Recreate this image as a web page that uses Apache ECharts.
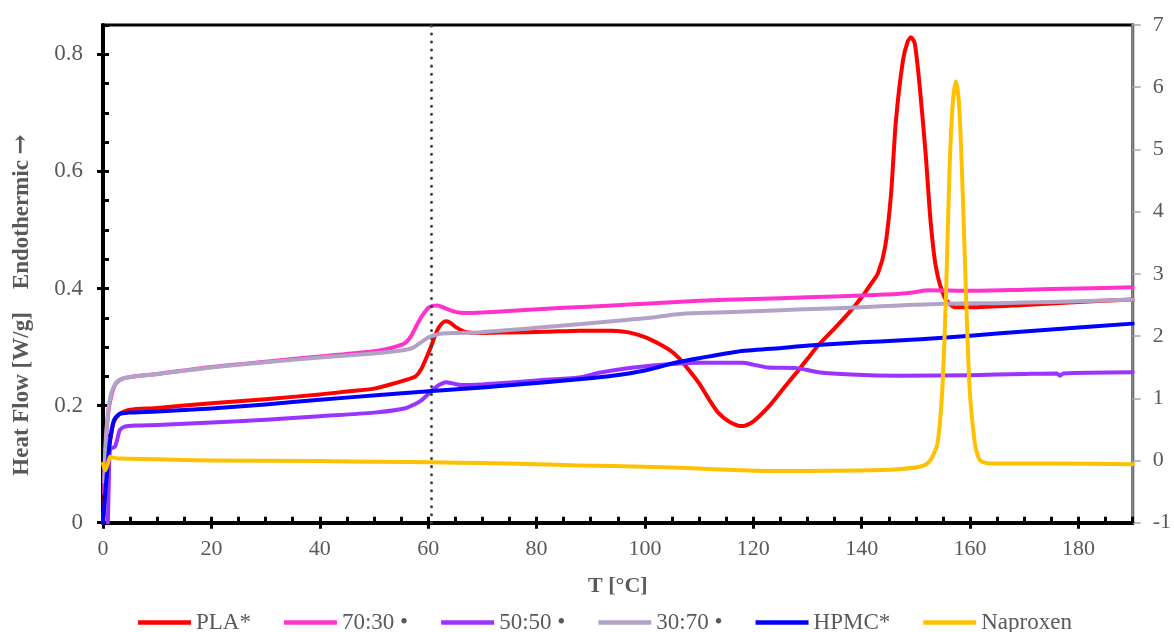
<!DOCTYPE html>
<html>
<head>
<meta charset="utf-8">
<title>DSC thermograms</title>
<script src="https://cdn.jsdelivr.net/npm/echarts@6/dist/echarts.min.js"></script>
<style>
  html, body { margin: 0; padding: 0; background: #fff; }
  #chart { width: 1174px; height: 632px; }
</style>
</head>
<body>
<div id="chart"></div>
<script>
// Heat flow curves, [T (°C), heat flow (W/g)] — left axis
const pla = [[0,0.0],[0.5,0.07],[1,0.12],[1.5,0.15],[2,0.172],[3,0.185],[4,0.19],[5,0.193],[10,0.196],[20,0.204],[30,0.211],[40,0.219],[45,0.224],[50,0.229],[53,0.236],[55.6,0.243],[57.7,0.25],[58.7,0.262],[59.6,0.28],[60.5,0.3],[61.3,0.32],[62,0.334],[63.2,0.344],[64,0.342],[65.1,0.334],[66.9,0.326],[69.4,0.324],[75,0.325],[81.6,0.326],[88,0.328],[94,0.328],[97,0.325],[100,0.317],[102.5,0.306],[104.5,0.295],[106.2,0.282],[108,0.262],[110,0.238],[112,0.208],[113.5,0.188],[115.5,0.173],[117.8,0.165],[119.5,0.17],[121,0.181],[123,0.2],[124.6,0.218],[126.5,0.24],[128.3,0.26],[130,0.28],[132,0.303],[135,0.332],[137.5,0.357],[140,0.385],[141.5,0.405],[143,0.426],[144.3,0.47],[145.4,0.56],[146.3,0.685],[147.6,0.789],[148.5,0.822],[149.1,0.829],[149.8,0.818],[150.7,0.745],[151.8,0.63],[152.7,0.516],[153.7,0.436],[155.3,0.385],[157.2,0.368],[160,0.368],[170,0.372],[180,0.377],[190,0.381]];

const blend7030 = [[0.2,0.05],[0.5,0.13],[1,0.19],[1.5,0.215],[2.2,0.235],[3,0.243],[4,0.247],[6,0.25],[10,0.254],[20,0.266],[30,0.275],[40,0.284],[50,0.293],[53,0.298],[55.6,0.306],[56.8,0.318],[57.7,0.334],[58.8,0.352],[60.2,0.368],[61.7,0.371],[63.2,0.366],[65,0.36],[66.9,0.358],[70,0.359],[75.5,0.362],[85,0.367],[94,0.371],[100,0.374],[110,0.379],[120,0.382],[130,0.385],[140,0.388],[147,0.391],[150,0.394],[152.2,0.397],[160,0.396],[170,0.398],[180,0.4],[190,0.402]];

const blend5050 = [[0.9,0.0],[1.1,0.08],[1.3,0.125],[2.2,0.13],[2.7,0.145],[3.1,0.158],[4,0.164],[6,0.166],[10,0.167],[20,0.171],[30,0.176],[40,0.182],[50,0.188],[55.6,0.195],[58.3,0.206],[59.5,0.215],[60.7,0.226],[62,0.235],[63.3,0.24],[64.5,0.238],[66.2,0.235],[70,0.236],[73,0.238],[80,0.243],[87.8,0.248],[91.5,0.256],[94,0.26],[98.8,0.266],[105,0.271],[110,0.273],[118,0.273],[120,0.27],[122.7,0.265],[128,0.264],[132,0.257],[138,0.253],[146.7,0.251],[160,0.252],[170,0.254],[176,0.255],[176.6,0.251],[177.2,0.255],[190,0.257]];

const blend3070 = [[0.2,0.07],[0.5,0.14],[1,0.195],[1.5,0.22],[2.2,0.236],[3,0.244],[4,0.247],[6,0.25],[10,0.254],[20,0.265],[30,0.274],[40,0.282],[50,0.289],[55,0.294],[57,0.298],[58.5,0.307],[60.2,0.317],[61.5,0.321],[62.6,0.323],[66,0.324],[69.4,0.325],[75,0.329],[80,0.333],[87.8,0.339],[95,0.345],[100,0.349],[106,0.356],[110,0.358],[120,0.361],[128,0.364],[140,0.368],[147,0.371],[155,0.374],[165,0.375],[175,0.377],[190,0.381]];

const hpmc = [[0,0.0],[0.5,0.06],[1,0.115],[1.3,0.141],[1.8,0.168],[2.2,0.178],[3.1,0.186],[4.6,0.188],[10,0.19],[20,0.195],[30,0.202],[40,0.21],[51,0.218],[60.7,0.225],[70,0.231],[75.5,0.235],[87.8,0.245],[94,0.251],[100,0.26],[106,0.274],[110,0.281],[117,0.292],[124.6,0.298],[131,0.303],[140,0.308],[146.7,0.311],[155,0.316],[165,0.323],[175,0.33],[190,0.34]];

// Naproxen, [T (°C), heat flow (W/g)] — right axis
const naproxen = [[0,-0.05],[0.4,-0.16],[0.9,-0.05],[1.3,0.06],[1.7,0.05],[3,0.03],[10,0.02],[20,0.0],[40,-0.01],[51,-0.02],[60.7,-0.03],[70,-0.04],[80,-0.06],[87.8,-0.08],[100,-0.1],[110,-0.13],[115.4,-0.15],[124.6,-0.17],[128.5,-0.17],[140,-0.16],[146.7,-0.14],[150.2,-0.11],[151.5,-0.08],[152.2,-0.04],[153,0.05],[154,0.28],[154.9,1.18],[155.6,2.79],[156.2,4.67],[156.8,5.74],[157.4,6.09],[158,5.68],[158.6,4.4],[159.3,2.53],[159.9,1.18],[160.8,0.32],[161.4,0.08],[161.9,0.0],[163,-0.04],[164.5,-0.05],[175,-0.05],[190,-0.06]];

const seriesNames = ['PLA*', '70:30 \u2022', '50:50 \u2022', '30:70 \u2022', 'HPMC*', 'Naproxen'];
const seriesColors = ['#FF0000', '#FF33CC', '#9933FF', '#B3A2C7', '#0000FF', '#FFC000'];
const seriesData = [pla, blend7030, blend5050, blend3070, hpmc, naproxen];
const glassTransitionT = 60.5;

const xRange = [0, 190];
const leftRange = [0, 0.85];
const rightRange = [-1, 7];

const FONT = '"Liberation Serif", "Times New Roman", serif';
const TXT = '#595959';

const chart = echarts.init(document.getElementById('chart'), null, { renderer: 'canvas' });

const series = seriesData.map((d, i) => ({
  name: seriesNames[i],
  type: 'line',
  data: d,
  xAxisIndex: 0,
  yAxisIndex: i === 5 ? 2 : 0,
  symbol: 'none',
  showSymbol: false,
  smooth: 0.25,
  lineStyle: { color: seriesColors[i], width: 4, join: 'round', cap: 'round' },
  itemStyle: { color: seriesColors[i] },
  z: 2 + i
}));

// dotted reference line at the glass transition
series.push({
  name: 'Tg',
  type: 'line',
  data: [],
  xAxisIndex: 0,
  yAxisIndex: 0,
  z: 20,
  markLine: {
    silent: true,
    symbol: 'none',
    label: { show: false },
    lineStyle: { color: '#404040', width: 3, type: [0.01, 8], cap: 'round' },
    data: [{ xAxis: glassTransitionT }]
  }
});

chart.setOption({
  animation: false,
  backgroundColor: '#fff',
  textStyle: { fontFamily: FONT },
  grid: {
    left: 103, right: 38.5, top: 25, bottom: 109.3,
    containLabel: false,
    show: true, borderColor: '#000', borderWidth: 3, backgroundColor: 'transparent'
  },
  legend: {
    data: seriesNames,
    left: 133, top: 606,
    icon: 'rect',
    itemWidth: 53, itemHeight: 4.5, itemGap: 33,
    textStyle: { fontFamily: FONT, fontSize: 23, color: TXT }
  },
  xAxis: [
    {
      type: 'value', position: 'bottom',
      min: xRange[0], max: xRange[1], interval: 20,
      name: 'T [\u00B0C]', nameLocation: 'middle', nameGap: 53,
      nameTextStyle: { fontFamily: FONT, fontSize: 22, fontWeight: 'bold', color: TXT },
      axisLine: { show: true, onZero: false, lineStyle: { color: '#000', width: 4 } },
      axisTick: { show: true, inside: false, length: 6, lineStyle: { color: '#000', width: 3 } },
      axisLabel: { fontFamily: FONT, fontSize: 22, color: TXT, margin: 16, showMaxLabel: false },
      splitLine: { show: false }
    },
    {
      type: 'value', position: 'bottom',
      min: xRange[0], max: xRange[1], interval: 5,
      axisLine: { show: false, onZero: false },
      axisTick: { show: true, inside: true, length: 6, lineStyle: { color: '#000', width: 3 } },
      axisLabel: { show: false },
      splitLine: { show: false }
    }
  ],
  yAxis: [
    {
      type: 'value', position: 'left',
      min: leftRange[0], max: leftRange[1], interval: 0.2,
      axisLine: { show: true, onZero: false, lineStyle: { color: '#000', width: 4 } },
      axisTick: { show: true, inside: false, length: 6, lineStyle: { color: '#000', width: 3 } },
      axisLabel: { fontFamily: FONT, fontSize: 23, color: TXT, margin: 20, showMaxLabel: false,
        formatter: v => (v === 0 ? '0' : String(+v.toFixed(1))) },
      splitLine: { show: false }
    },
    {
      type: 'value', position: 'left',
      min: leftRange[0], max: leftRange[1], interval: 0.05,
      axisLine: { show: false, onZero: false },
      axisTick: { show: true, inside: true, length: 6, lineStyle: { color: '#000', width: 3 } },
      axisLabel: { show: false },
      splitLine: { show: false }
    },
    {
      type: 'value', position: 'right',
      min: rightRange[0], max: rightRange[1], interval: 1,
      axisLine: { show: true, onZero: false, lineStyle: { color: '#8c8c8c', width: 2.5 } },
      axisTick: { show: true, inside: false, length: 8, lineStyle: { color: '#a6a6a6', width: 1.5 } },
      axisLabel: { fontFamily: FONT, fontSize: 22, color: TXT, margin: 20 },
      splitLine: { show: false }
    }
  ],
  graphic: [
    {
      type: 'text',
      x: 22, y: 305,
      rotation: Math.PI / 2,
      style: {
        text: 'Heat Flow [W/g]    Endothermic {arw|\u2192}',
        rich: { arw: { font: 'bold 24px "DejaVu Serif", serif', fill: TXT } },
        font: 'bold 23px ' + FONT,
        fill: TXT,
        align: 'center',
        verticalAlign: 'middle'
      }
    }
  ],
  series: series
});
</script>
</body>
</html>
